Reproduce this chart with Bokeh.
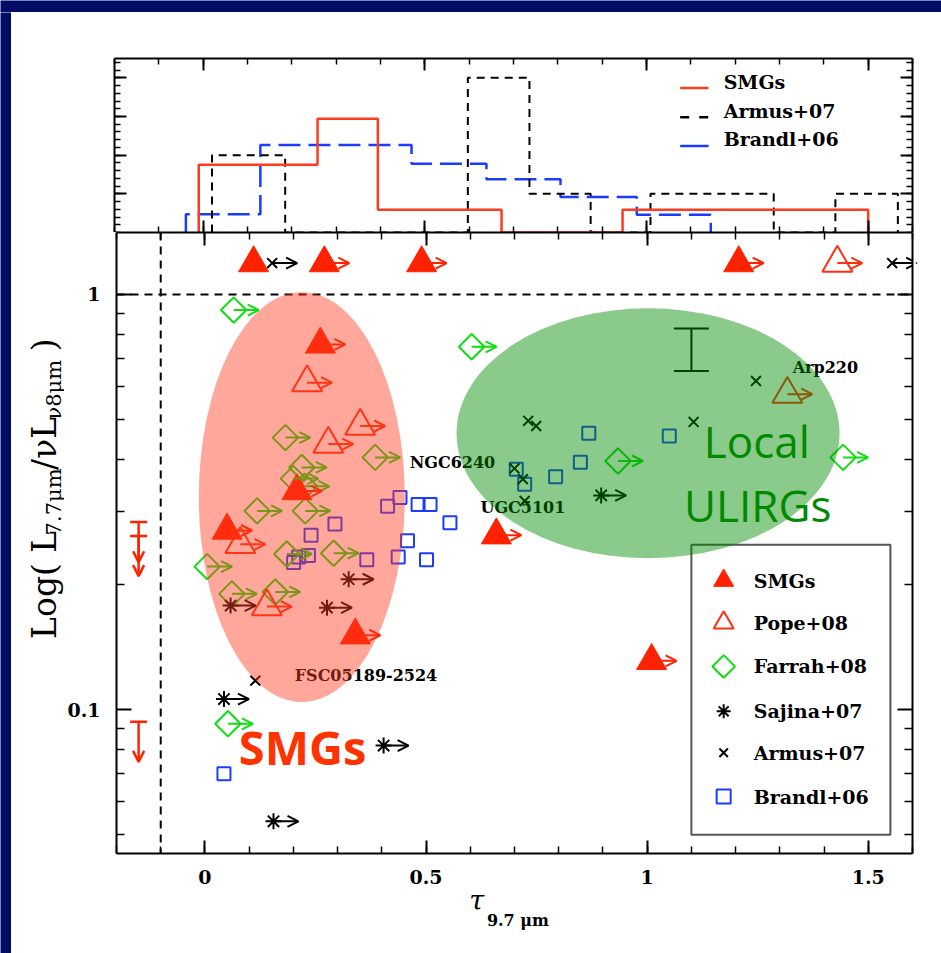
import numpy as np
from bokeh.plotting import figure
from bokeh.layouts import column, row
from bokeh.models import (ColumnDataSource, Arrow, OpenHead, Span, Whisker, TeeHead,
                          LinearAxis, LogAxis, FixedTicker, CustomJSTickFormatter, Range1d)
from bokeh.core.properties import value
from bokeh.embed import file_html
from bokeh.resources import INLINE

# ---------------- data ----------------
# histograms (fraction of objects per tau_9.7 bin)
SMG_EDGES = [-0.01, 0.258, 0.394, 0.673, 0.946, 1.50]
SMG_FRAC = [0.175, 0.294, 0.059, 0.0, 0.059]
ARMUS_EDGES = [0.02, 0.185, 0.597, 0.736, 0.874, 1.009, 1.287, 1.426, 1.567]
ARMUS_FRAC = [0.20, 0.0, 0.40, 0.10, 0.0, 0.10, 0.0, 0.10]
BRANDL_EDGES = [-0.039, 0.129, 0.470, 0.639, 0.806, 0.978, 1.145]
BRANDL_FRAC = [0.047, 0.226, 0.178, 0.138, 0.092, 0.046]

# SMGs (filled triangles)
SMG_TAU = [0.110, 0.270, 0.490, 1.207, 0.261, 0.208, 0.050, 0.659, 0.340, 1.010]
SMG_RATIO = [1.19, 1.19, 1.19, 1.19, 0.758, 0.336, 0.270, 0.263, 0.151, 0.131]
SMG_LOWLIM = [False, True, True, True, True, True, True, True, True, True]

# Pope+08 (open triangles, lower limits in tau)
POPE_TAU = [0.231, 0.351, 0.279, 0.080, 0.140, 1.317, 1.430]
POPE_RATIO = [0.613, 0.482, 0.436, 0.250, 0.177, 0.575, 1.19]

# Farrah+08 (diamonds, lower limits)
FARRAH_TAU = [0.065, 0.603, 0.934, 1.443, 0.182, 0.385, 0.219, 0.200, 0.225, 0.118,
              0.227, 0.185, 0.291, 0.005, 0.061, 0.159, 0.052]
FARRAH_RATIO = [0.917, 0.748, 0.397, 0.405, 0.452, 0.405, 0.383, 0.360, 0.345, 0.301,
                0.301, 0.237, 0.238, 0.221, 0.190, 0.192, 0.0924]

# Sajina+07 (stars, lower limits)
SAJINA_TAU = [0.325, 0.276, 0.058, 0.043, 0.404, 0.155, 0.896]
SAJINA_RATIO = [0.206, 0.176, 0.178, 0.106, 0.0819, 0.0538, 0.328]

# Armus+07 (crosses)
ARMUS_TAU = [0.152, 1.554, 0.114, 1.246, 1.105, 0.731, 0.749, 0.700, 0.719, 0.723]
ARMUS_RATIO = [1.19, 1.19, 0.1174, 0.619, 0.493, 0.496, 0.482, 0.381, 0.359, 0.318]
ARMUS_LOWLIM = [True, True, False, False, False, False, False, False, False, False]

# Brandl+06 (squares)
BRANDL_TAU = [0.868, 1.050, 0.849, 0.793, 0.704, 0.723, 0.482, 0.509, 0.554, 0.441,
              0.413, 0.294, 0.240, 0.458, 0.2005, 0.212, 0.234, 0.366, 0.437, 0.501, 0.043]
BRANDL_RATIO = [0.463, 0.456, 0.394, 0.364, 0.379, 0.349, 0.312, 0.312, 0.282, 0.324,
                0.309, 0.280, 0.263, 0.255, 0.226, 0.233, 0.235, 0.2295, 0.233, 0.2295, 0.070]

# SMG upper limits (no tau measurement)
UL_TAU = [-0.15, -0.15, -0.15]
UL_RATIO = [0.283, 0.262, 0.0935]

# typical error bar
ERR_TAU = [1.10]
ERR_UP = [0.828]
ERR_LO = [0.654]

# named objects
ANNOT_TEXT = ["NGC6240", "UGC5101", "Arp220", "FSC05189-2524"]
ANNOT_TAU = [0.463, 0.623, 1.329, 0.203]
ANNOT_RATIO = [0.394, 0.306, 0.667, 0.1206]

# highlighted regions
REGION_TAU = [0.219, 1.002]
REGION_RATIO = [0.325, 0.463]

X_TICKS = [0, 0.5, 1, 1.5]
Y_TICKS = [0.1, 1]
HIST_TICKS = [0.1, 0.2, 0.3, 0.4]

LEGEND_LABELS = ["SMGs", "Pope+08", "Farrah+08", "Sajina+07", "Armus+07", "Brandl+06"]
HIST_LABELS = ["SMGs", "Armus+07", "Brandl+06"]

# ---------------- style ----------------
NAVY = "#000c66"
RED = "#ff2200"
POPE_RED = "#ff3010"
GREEN = "#11dd11"
BLUE = "#1a3cff"
FONT = "DejaVu Serif"
ARROW_LEN = 0.0565

x_minor = [round(v, 2) for v in np.arange(-0.2, 1.61, 0.1)]
y_minor = [0.05, 0.06, 0.07, 0.08, 0.09, 0.2, 0.3, 0.4, 0.5, 0.6, 0.7, 0.8, 0.9]
h_minor = [round(v, 2) for v in np.arange(0.0, 0.46, 0.02)]

blank = CustomJSTickFormatter(code="return ''")
xfmt = CustomJSTickFormatter(code="return (Math.round(tick*10)/10).toString()")
yfmt = CustomJSTickFormatter(code="return tick < 1 ? tick.toFixed(1) : tick.toFixed(0)")


def style_axis(ax, maj, mino, show=True, standoff=16):
    ax.axis_line_width = 2
    ax.axis_line_color = "black"
    ax.major_tick_in = maj
    ax.major_tick_out = 0
    ax.minor_tick_in = mino
    ax.minor_tick_out = 0
    ax.major_tick_line_width = 2
    ax.minor_tick_line_width = 1.5
    ax.axis_label = None
    if show:
        ax.major_label_text_font = FONT
        ax.major_label_text_font_style = "bold"
        ax.major_label_text_font_size = "19px"
        ax.major_label_text_color = "black"
        ax.major_label_standoff = standoff
    else:
        ax.formatter = blank
        ax.major_label_text_font_size = "0px"
        ax.major_label_standoff = 0


def blank_fig(w, h, xr, yr, color="white", **kw):
    opts = dict(min_border_left=0, min_border_right=0, min_border_top=0, min_border_bottom=0)
    opts.update(kw)
    f = figure(width=w, height=h, x_range=xr, y_range=yr, title=None,
               output_backend="svg", toolbar_location=None,
               x_axis_location=None, y_axis_location=None,
               background_fill_color=color, border_fill_color=color, **opts)
    f.outline_line_color = None
    f.grid.visible = False
    return f


# ---------------- top histogram panel ----------------
top = figure(width=930, height=220, x_range=Range1d(-0.2, 1.6), y_range=Range1d(0, 0.45),
             output_backend="svg", toolbar_location=None,
             min_border_left=103, min_border_right=29, min_border_top=46, min_border_bottom=0)
top.grid.visible = False
top.outline_line_color = None
top.xaxis.ticker = FixedTicker(ticks=X_TICKS, minor_ticks=x_minor)
top.yaxis.ticker = FixedTicker(ticks=HIST_TICKS, minor_ticks=h_minor)
for ax in top.xaxis + top.yaxis:
    style_axis(ax, 12, 6, show=False)
ax_t = LinearAxis(ticker=FixedTicker(ticks=X_TICKS, minor_ticks=x_minor))
ax_r = LinearAxis(ticker=FixedTicker(ticks=HIST_TICKS, minor_ticks=h_minor))
style_axis(ax_t, 12, 6, show=False)
style_axis(ax_r, 12, 6, show=False)
top.add_layout(ax_t, "above")
top.add_layout(ax_r, "right")


def step_line(f, edges, vals, **kw):
    xs = [edges[0]] + list(edges)
    ys = [0] + list(vals) + [0]
    f.step(xs, ys, mode="after", **kw)


step_line(top, BRANDL_EDGES, BRANDL_FRAC, line_color=BLUE, line_width=2.5, line_dash="22 8")
step_line(top, ARMUS_EDGES, ARMUS_FRAC, line_color="black", line_width=2, line_dash="8 6")
step_line(top, SMG_EDGES, SMG_FRAC, line_color="#ff3b1f", line_width=2.5)

HL_COLORS = ["#ff3b1f", "black", BLUE]
HL_DASH = ["solid", "9 10", "solid"]
HL_LINE_Y = [0.3736, 0.2983, 0.2237]
HL_TEXT_Y = [0.389, 0.3145, 0.2417]
for c, d, ly in zip(HL_COLORS, HL_DASH, HL_LINE_Y):
    top.segment(x0=[1.076], y0=[ly], x1=[1.140], y1=[ly], line_color=c, line_width=2.5, line_dash=d)
top.text(x=[1.174] * 3, y=HL_TEXT_Y, text=HIST_LABELS, text_font=value(FONT), text_font_style="bold",
         text_font_size="19px", text_baseline="middle", text_align="left", text_color="black")

# ---------------- main scatter panel ----------------
p = figure(width=877, height=654, x_range=Range1d(-0.2, 1.6), y_range=Range1d(0.045, 1.41),
           y_axis_type="log", output_backend="svg", toolbar_location=None,
           min_border_left=50, min_border_right=29, min_border_top=0, min_border_bottom=32)
p.grid.visible = False
p.outline_line_color = None
p.xaxis.ticker = FixedTicker(ticks=X_TICKS, minor_ticks=x_minor)
p.yaxis.ticker = FixedTicker(ticks=Y_TICKS, minor_ticks=y_minor)
for ax in p.xaxis:
    style_axis(ax, 13, 7, standoff=16)
    ax.formatter = xfmt
for ax in p.yaxis:
    style_axis(ax, 15, 8, standoff=16)
    ax.formatter = yfmt
ax_t2 = LinearAxis(ticker=FixedTicker(ticks=X_TICKS, minor_ticks=x_minor))
ax_r2 = LogAxis(ticker=FixedTicker(ticks=Y_TICKS, minor_ticks=y_minor))
style_axis(ax_t2, 13, 7, show=False)
style_axis(ax_r2, 15, 8, show=False)
p.add_layout(ax_t2, "above")
p.add_layout(ax_r2, "right")

p.add_layout(Span(location=-0.1, dimension="height", line_color="black", line_width=2, line_dash="8 6"))
p.add_layout(Span(location=1.0, dimension="width", line_color="black", line_width=2, line_dash="8 6"))


def add_arrows(xs, ys, color):
    if not xs:
        return
    src = ColumnDataSource(dict(x0=list(xs), y=list(ys), x1=[x + ARROW_LEN for x in xs]))
    p.add_layout(Arrow(end=OpenHead(size=11, line_color=color, line_width=2), source=src,
                       x_start="x0", y_start="y", x_end="x1", y_end="y",
                       line_color=color, line_width=2))


# markers
p.scatter(BRANDL_TAU, BRANDL_RATIO, marker="square", size=13, fill_color=None,
          line_color=BLUE, line_width=2)
p.scatter(FARRAH_TAU, FARRAH_RATIO, marker="square", angle=np.pi / 4, size=18,
          fill_color=None, line_color=GREEN, line_width=2)
p.scatter(SAJINA_TAU, SAJINA_RATIO, marker="asterisk", size=16, line_color="black", line_width=2)
p.scatter(ARMUS_TAU, ARMUS_RATIO, marker="x", size=14, line_color="black", line_width=2)
p.scatter(POPE_TAU, POPE_RATIO, marker="triangle", size=30, fill_color=None,
          line_color=POPE_RED, line_width=2)
p.scatter(SMG_TAU, SMG_RATIO, marker="triangle", size=30, fill_color=RED, line_color=RED)

add_arrows(FARRAH_TAU, FARRAH_RATIO, GREEN)
add_arrows(SAJINA_TAU, SAJINA_RATIO, "black")
add_arrows([t for t, f in zip(ARMUS_TAU, ARMUS_LOWLIM) if f],
           [r for r, f in zip(ARMUS_RATIO, ARMUS_LOWLIM) if f], "black")
add_arrows(POPE_TAU, POPE_RATIO, POPE_RED)
add_arrows([t for t, f in zip(SMG_TAU, SMG_LOWLIM) if f],
           [r for r, f in zip(SMG_RATIO, SMG_LOWLIM) if f], RED)

# upper limits
p.scatter(UL_TAU, UL_RATIO, marker="dash", size=17, line_color=RED, line_width=2.5)
ul_src = ColumnDataSource(dict(x=UL_TAU, y0=UL_RATIO, y1=[r * 0.8 for r in UL_RATIO]))
p.add_layout(Arrow(end=OpenHead(size=11, line_color=RED, line_width=2.5), source=ul_src,
                   x_start="x", y_start="y0", x_end="x", y_end="y1", line_color=RED, line_width=2.5))

# error bar
err_src = ColumnDataSource(dict(x=ERR_TAU, u=ERR_UP, l=ERR_LO))
p.add_layout(Whisker(base="x", upper="u", lower="l", source=err_src, dimension="height",
                     line_color="black", line_width=2,
                     upper_head=TeeHead(size=35, line_color="black", line_width=2),
                     lower_head=TeeHead(size=35, line_color="black", line_width=2)))

# object names
p.text(x=ANNOT_TAU, y=ANNOT_RATIO, text=ANNOT_TEXT, text_font=value(FONT), text_font_style="bold",
       text_font_size="16px", text_baseline="middle", text_align="left", text_color="black")

# legend box (drawn as glyphs so the highlighted region can overlap it)
LEG_BOX = (1.325, 0.1116)
LEG_MARK_X = 1.173
LEG_TEXT_X = 1.241
LEG_Y = [0.2045, 0.1618, 0.1270, 0.0990, 0.0787, 0.0617]
p.rect(x=[LEG_BOX[0]], y=[LEG_BOX[1]], width=[199], height=[290], width_units="screen",
       height_units="screen", fill_color="white", line_color="#555555", line_width=2)
p.scatter([LEG_MARK_X], [LEG_Y[0]], marker="triangle", size=20, fill_color=RED, line_color=RED)
p.scatter([LEG_MARK_X], [LEG_Y[1]], marker="triangle", size=20, fill_color=None,
          line_color=POPE_RED, line_width=2)
p.scatter([LEG_MARK_X], [LEG_Y[2]], marker="square", angle=np.pi / 4, size=16, fill_color=None,
          line_color=GREEN, line_width=2)
p.scatter([LEG_MARK_X], [LEG_Y[3]], marker="asterisk", size=14, line_color="black", line_width=2)
p.scatter([LEG_MARK_X], [LEG_Y[4]], marker="x", size=12, line_color="black", line_width=2)
p.scatter([LEG_MARK_X], [LEG_Y[5]], marker="square", size=14, fill_color=None,
          line_color=BLUE, line_width=2)
p.text(x=[LEG_TEXT_X] * 6, y=LEG_Y, text=LEGEND_LABELS, text_font=value(FONT),
       text_font_style="bold", text_font_size="19px", text_baseline="middle", text_align="left",
       text_color="black")

# highlighted regions (drawn on top, semi-transparent)
e1 = p.ellipse(x=[REGION_TAU[0]], y=[REGION_RATIO[0]], width=[206], height=[410],
               width_units="screen", height_units="screen",
               fill_color="#ff3c1e", fill_alpha=0.45, line_color=None)
e2 = p.ellipse(x=[REGION_TAU[1]], y=[REGION_RATIO[1]], width=[383], height=[250],
               width_units="screen", height_units="screen",
               fill_color="#008c00", fill_alpha=0.46, line_color=None)
e1.level = "overlay"
e2.level = "overlay"

t1 = p.text(x=[0.0766], y=[0.0814], text=["SMGs"], text_font=value("Open Sans"),
            text_font_style="bold", text_font_size="47px", text_color="#ff3300",
            text_align="left", text_baseline="middle")
t2 = p.text(x=[1.248, 1.250], y=[0.4433, 0.3108], text=["Local", "ULIRGs"],
            text_font=value("Open Sans"), text_font_size="44px", text_color="#008a00",
            text_align="center", text_baseline="middle")
t1.level = "overlay"
t2.level = "overlay"

# ---------------- axis titles (main text + subscripts) ----------------
ylab = blank_fig(53, 654, Range1d(0, 53), Range1d(0, 654))
YL_TEXT = ["Log( L", "7.7μm", "/νL", "ν8μm", ")"]
YL_SIZE = ["33px", "21px", "33px", "21px", "33px"]
YL_X = [33, 42, 33, 42, 33]
YL_Y = [226, 335, 404, 457, 529]
for t, s, xx, yy in zip(YL_TEXT, YL_SIZE, YL_X, YL_Y):
    ylab.text(x=[xx], y=[yy], text=[t], angle=np.pi / 2, text_font=value(FONT),
              text_font_size=s, text_align="left", text_baseline="middle", text_color="black")

xlab = blank_fig(930, 67, p.x_range, Range1d(0, 67), min_border_left=103, min_border_right=29)
xlab.text(x=[0.600], y=[53], text=["τ"], text_font=value(FONT), text_font_style="italic",
          text_font_size="27px", text_align="left", text_baseline="middle", text_color="black")
xlab.text(x=[0.640], y=[33], text=["9.7 μm"], text_font=value(FONT), text_font_style="bold",
          text_font_size="16px", text_align="left", text_baseline="middle", text_color="black")

strip_top = blank_fig(941, 12, Range1d(0, 1), Range1d(0, 1), NAVY)
strip_left = blank_fig(11, 941, Range1d(0, 1), Range1d(0, 1), NAVY)

layout = column(strip_top,
                row(strip_left, column(top, row(ylab, p, spacing=0), xlab, spacing=0), spacing=0),
                spacing=0)
open("out.html", "w").write(file_html(layout, INLINE, "tau vs PAH ratio"))
